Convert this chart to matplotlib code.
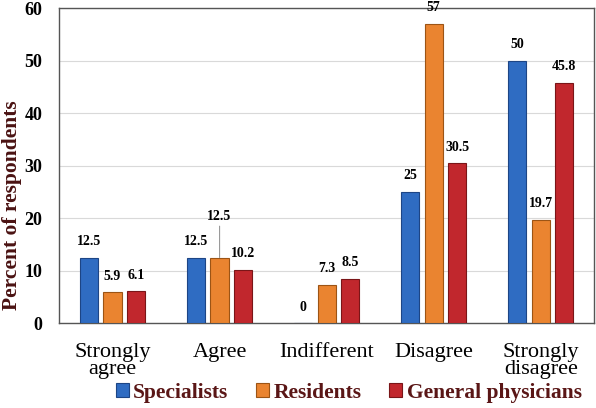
import numpy as np
import matplotlib.pyplot as plt

categories = ['Strongly\nagree', 'Agree', 'Indifferent', 'Disagree', 'Strongly\ndisagree']
series_names = ['Specialists', 'Residents', 'General physicians']
specialists = [12.5, 12.5, 0, 25, 50]
residents = [5.9, 12.5, 7.3, 57, 19.7]
general_physicians = [6.1, 10.2, 8.5, 30.5, 45.8]
colors = ['#2f6cc2', '#ea8430', '#c1272d']
edges = ['#1d4585', '#9c5415', '#7a1518']

plt.rcParams['font.family'] = ['Liberation Serif', 'DejaVu Serif']

fig = plt.figure(figsize=(5.96, 4.08), dpi=100)
ax = fig.add_axes([0.099, 0.208, 0.898, 0.772])

x = np.arange(len(categories))
width = 0.17
offsets = [-0.22, 0, 0.22]
all_series = [specialists, residents, general_physicians]

for i, (name, vals) in enumerate(zip(series_names, all_series)):
    ax.bar(x + offsets[i], vals, width, color=colors[i], edgecolor=edges[i],
           linewidth=0.8, label=name, zorder=3)
    for j, v in enumerate(vals):
        label = f'{v:g}'
        if i == 1 and j == 1:
            # label lifted above with a leader line
            ax.annotate(label, xy=(x[j] + offsets[i], v), xytext=(x[j] + offsets[i], v + 6.5),
                        ha='center', va='bottom', fontsize=10, fontweight='bold',
                        arrowprops=dict(arrowstyle='-', color='#999999', lw=0.8,
                                        shrinkA=0, shrinkB=0))
        else:
            ax.text(x[j] + offsets[i], v + 1.8, label, ha='center', va='bottom',
                    fontsize=10, fontweight='bold')

ax.set_xlim(-0.5, len(categories) - 0.5)
ax.set_ylim(0, 60)
ax.set_yticks(range(0, 61, 10))
ax.set_xticks(x)
ax.set_xticklabels(categories, fontsize=16, linespacing=0.9)
ax.tick_params(axis='x', length=0, pad=14)
ax.tick_params(axis='y', length=0, pad=12, labelsize=13)
for lab in ax.get_yticklabels():
    lab.set_fontweight('bold')
ax.grid(axis='y', color='#d9d9d9', linewidth=0.8, zorder=0)
for side in ['top', 'right', 'bottom', 'left']:
    ax.spines[side].set_color('#555555')
    ax.spines[side].set_linewidth(1.0)

ax.set_ylabel('Percent of respondents', fontsize=15.5, fontweight='bold', color='#4a1212')
ax.yaxis.set_label_coords(-0.07, 0.375)

leg = fig.legend(loc='lower center', bbox_to_anchor=(0.585, -0.035), ncol=3, frameon=False,
                 prop={'weight': 'bold', 'size': 15.5}, handlelength=0.6, handleheight=0.6,
                 handletextpad=0.2, columnspacing=1.3)
for t in leg.get_texts():
    t.set_color('#5a1616')

fig.savefig('out.png', dpi=100)
